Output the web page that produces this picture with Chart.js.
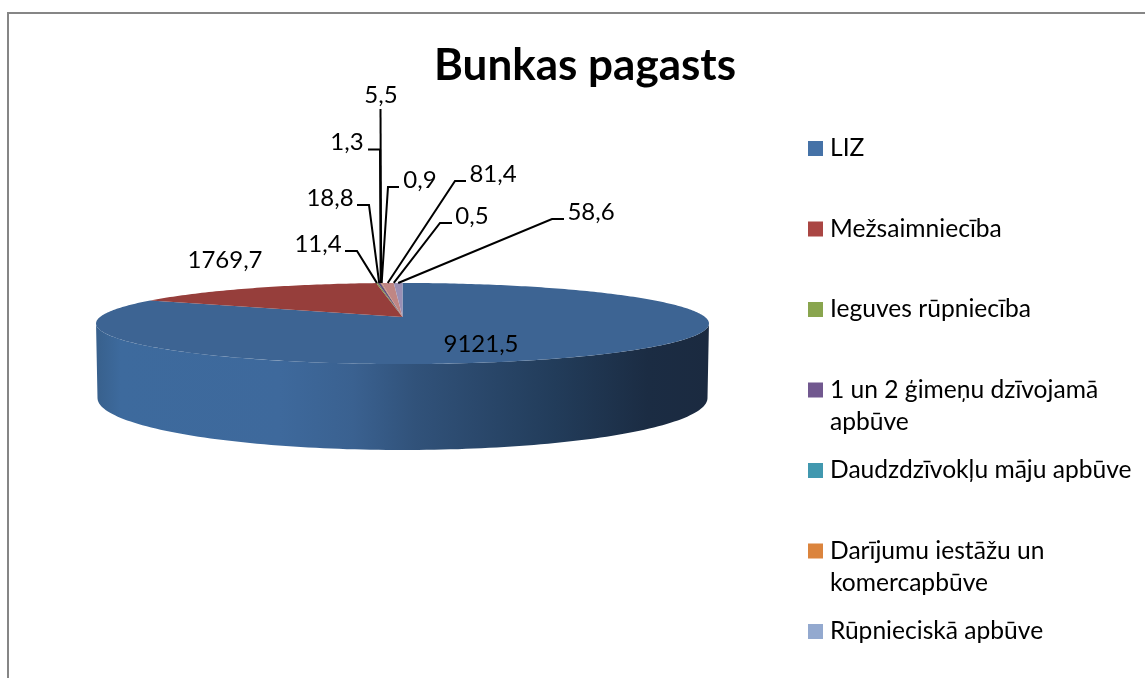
<!DOCTYPE html>
<html>
<head>
<meta charset="utf-8">
<script src="https://cdn.jsdelivr.net/npm/chart.js@4"></script>
<style>
html, body { margin: 0; padding: 0; background: #fff; overflow: hidden; }
#wrap { width: 1145px; height: 678px; position: relative; }
</style>
</head>
<body>
<div id="wrap"><canvas id="landChart" width="1145" height="678"></canvas></div>
<script>
// the three last legend rows are cut off in the picture, so only seven names
const categories = ['LIZ', 'Mežsaimniecība', 'Ieguves rūpniecība', '1 un 2 ģimeņu dzīvojamā apbūve',
    'Daudzdzīvokļu māju apbūve', 'Darījumu iestāžu un komercapbūve', 'Rūpnieciskā apbūve'];
const values = [9121.5, 1769.7, 11.4, 18.8, 1.3, 5.5, 0.9, 81.4, 0.5, 58.6];
const colors = ['#4572A7', '#AA4643', '#89A54E', '#71588F', '#4198AF', '#DB843D', '#93A9CF',
    '#DA9896', '#B9CD96', '#AFA3CC'];

// where Excel left each value label: text centre, stub end, elbow
const labelSpots = [
    { x: 481, y: 344 },
    { x: 225, y: 260 },
    { x: 318, y: 244, stub: 345, ex: 357, ey: 251 },
    { x: 330, y: 198, stub: 357, ex: 369, ey: 205 },
    { x: 347, y: 142, stub: 368, ex: 380, ey: 149.5 },
    { x: 381, y: 95, ex: 380.5, ey: 109 },
    { x: 420, y: 180, stub: 399, ex: 388, ey: 187 },
    { x: 493, y: 174, stub: 466, ex: 455, ey: 181 },
    { x: 472, y: 216, stub: 452, ex: 440, ey: 223 },
    { x: 591, y: 212, stub: 564, ex: 552, ey: 219 }
];

const FONT = 'Lato, sans-serif';
// perspective disc: apex at (cx, cy), k is the tilt
const disc = { cx: 402.5, cy: 317, a: 302.5, b: 39.5, k: 0.1605 };
const base = { cx: 402.5, cy: 398, a: 305, b: 52 };

function project(angle) {
    const u = Math.cos(angle), v = Math.sin(angle);
    const w = 1 - disc.k * v;
    return { x: disc.cx + disc.a * u / w, y: disc.cy + disc.b * v / w };
}

function shade(hex, f) {
    const n = parseInt(hex.slice(1), 16);
    const c = [n >> 16, (n >> 8) & 255, n & 255].map(function (p) { return Math.round(p * f); });
    return 'rgb(' + c.join(',') + ')';
}

function drawWall(ctx) {
    const start = Math.asin(disc.k), end = Math.PI - start;
    const grad = ctx.createLinearGradient(96, 0, 709, 0);
    grad.addColorStop(0, '#38608C');
    grad.addColorStop(0.04, '#3D6A9D');
    grad.addColorStop(0.3, '#3E699C');
    grad.addColorStop(0.42, '#3A6190');
    grad.addColorStop(0.52, '#31527A');
    grad.addColorStop(0.75, '#223C5A');
    grad.addColorStop(0.9, '#1B2C43');
    grad.addColorStop(1, '#1B2A40');
    ctx.beginPath();
    for (let i = 0; i <= 120; i++) {
        const p = project(start + (end - start) * i / 120);
        if (i === 0) ctx.moveTo(p.x, p.y); else ctx.lineTo(p.x, p.y);
    }
    for (let i = 0; i <= 120; i++) {
        const t = Math.PI - Math.PI * i / 120;
        ctx.lineTo(base.cx + base.a * Math.cos(t), base.cy + base.b * Math.sin(t));
    }
    ctx.closePath();
    ctx.fillStyle = grad;
    ctx.fill();
}

function drawSlices(ctx, arcs) {
    const apex = { x: disc.cx, y: disc.cy };
    arcs.forEach(function (arc, i) {
        const steps = Math.max(2, Math.ceil((arc.endAngle - arc.startAngle) * 60));
        ctx.beginPath();
        ctx.moveTo(apex.x, apex.y);
        for (let s = 0; s <= steps; s++) {
            const p = project(arc.startAngle + (arc.endAngle - arc.startAngle) * s / steps);
            ctx.lineTo(p.x, p.y);
        }
        ctx.closePath();
        ctx.fillStyle = shade(colors[i], 0.88);
        ctx.fill();
    });
}

function drawLabels(ctx, arcs) {
    ctx.font = '24px ' + FONT;
    ctx.textAlign = 'center';
    ctx.textBaseline = 'middle';
    ctx.fillStyle = '#000';
    ctx.strokeStyle = '#000';
    ctx.lineWidth = 2;
    arcs.forEach(function (arc, i) {
        const spot = labelSpots[i];
        if (spot.ex !== undefined) {
            const rim = project((arc.startAngle + arc.endAngle) / 2);
            ctx.beginPath();
            if (spot.stub !== undefined) {
                ctx.moveTo(spot.stub, spot.ey);
                ctx.lineTo(spot.ex, spot.ey);
            } else {
                ctx.moveTo(spot.ex, spot.ey);
            }
            ctx.lineTo(rim.x, rim.y);
            ctx.stroke();
        }
        ctx.fillText(String(values[i]).replace('.', ','), spot.x, spot.y);
    });
}

function wrapLabel(ctx, text, maxWidth) {
    const lines = [];
    let line = '';
    text.split(' ').forEach(function (word) {
        const next = line ? line + ' ' + word : word;
        if (ctx.measureText(next).width > maxWidth && line) {
            lines.push(line);
            line = word;
        } else {
            line = next;
        }
    });
    lines.push(line);
    return lines;
}

function drawLegend(ctx) {
    ctx.font = '24.6px ' + FONT;
    ctx.textAlign = 'left';
    ctx.textBaseline = 'middle';
    categories.forEach(function (name, i) {
        const y = 148.5 + i * 80.5;
        ctx.fillStyle = colors[i];
        ctx.fillRect(808, y - 7.5, 15, 15);
        ctx.fillStyle = '#000';
        wrapLabel(ctx, name, 310).forEach(function (line, n) {
            ctx.fillText(line, 830, y + n * 32);
        });
    });
}

const pie3d = {
    id: 'pie3d',
    beforeDraw: function (chart) {
        const ctx = chart.ctx;
        ctx.save();
        ctx.strokeStyle = '#868686';
        ctx.lineWidth = 2;
        ctx.beginPath();
        ctx.moveTo(8, 678);
        ctx.lineTo(8, 13);
        ctx.lineTo(1145, 13);
        ctx.stroke();
        ctx.restore();
    },
    beforeDatasetsDraw: function (chart) {
        const ctx = chart.ctx;
        const arcs = chart.getDatasetMeta(0).data;
        ctx.save();
        drawWall(ctx);
        drawSlices(ctx, arcs);
        drawLabels(ctx, arcs);
        drawLegend(ctx);
        ctx.restore();
        return false; // the flat arcs are replaced by the tilted ones
    }
};

new Chart(document.getElementById('landChart'), {
    type: 'pie',
    data: {
        labels: categories,
        datasets: [{ data: values, backgroundColor: colors, borderWidth: 0 }]
    },
    options: {
        responsive: false,
        animation: false,
        layout: { padding: { left: 25 } },
        plugins: {
            legend: { display: false },
            tooltip: { enabled: false },
            title: {
                display: true,
                text: 'Bunkas pagasts',
                color: '#000',
                font: { family: FONT, size: 44, weight: 'bold' },
                padding: { top: 39, bottom: 0 }
            }
        }
    },
    plugins: [pie3d]
});
</script>
</body>
</html>
